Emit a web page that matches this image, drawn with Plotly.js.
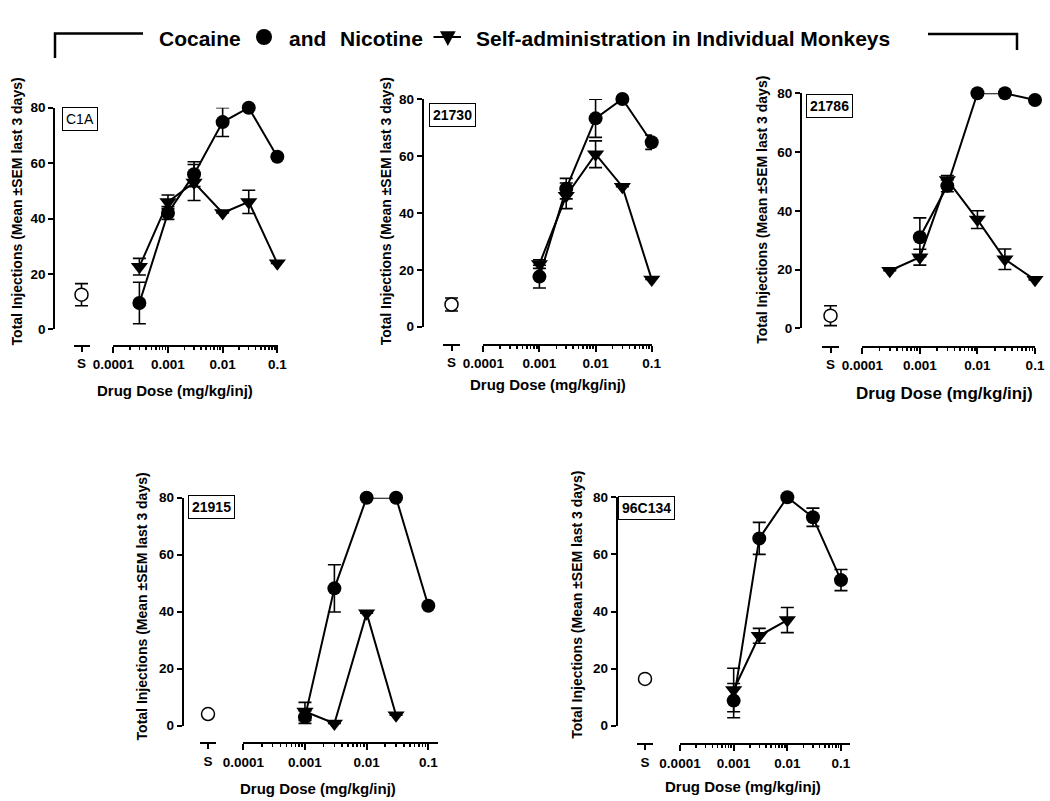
<!DOCTYPE html>
<html>
<head>
<meta charset="utf-8">
<script src="https://cdn.plot.ly/plotly-3.0.1.min.js"></script>
<style>html,body{margin:0;padding:0;background:#fff;}#chart{width:1050px;height:801px;}</style>
</head>
<body>
<div id="chart"></div>
<script>
// ---------------- DATA ----------------
const monkeyIds = ['C1A', '21730', '21786', '21915', '96C134'];
const doseTickVals = [0.0001, 0.001, 0.01, 0.1];
const doseTickText = ['0.0001', '0.001', '0.01', '0.1'];
const yTickVals = [0, 20, 40, 60, 80];
const yTickText = ['0', '20', '40', '60', '80'];
const salineLabel = ['S'];

// C1A
const c1aCocaineDose = [0.0003, 0.001, 0.003, 0.01, 0.03, 0.1];
const c1aCocaine     = [9.5, 42, 56, 74.8, 80, 62.3];
const c1aCocaineSem  = [7.5, 2.3, 4.5, 5.2, 0, 0];
const c1aNicotineDose = [0.0003, 0.001, 0.003, 0.01, 0.03, 0.1];
const c1aNicotine     = [22.6, 46, 53, 42, 46, 23.8];
const c1aNicotineSem  = [3, 2.5, 6.5, 0, 4.2, 0];
const c1aSaline = [12.5], c1aSalineSem = [4];

// 21730
const m21730CocaineDose = [0.001, 0.003, 0.01, 0.03, 0.1];
const m21730Cocaine     = [17.6, 48.5, 73.2, 80, 64.8];
const m21730CocaineSem  = [4, 3.6, 6.7, 0, 2.5];
const m21730NicotineDose = [0.001, 0.003, 0.01, 0.03, 0.1];
const m21730Nicotine     = [22, 46, 60.6, 49.2, 16.6];
const m21730NicotineSem  = [1.5, 4.5, 4.7, 0, 0];
const m21730Saline = [7.8], m21730SalineSem = [2.3];

// 21786
const m21786CocaineDose = [0.001, 0.003, 0.01, 0.03, 0.1];
const m21786Cocaine     = [31, 48.5, 80, 80, 77.7];
const m21786CocaineSem  = [6.6, 2, 0, 0, 0];
const m21786NicotineDose = [0.0003, 0.001, 0.003, 0.01, 0.03, 0.1];
const m21786Nicotine     = [19.6, 24.2, 50.5, 37, 23.5, 16.5];
const m21786NicotineSem  = [0, 2.7, 1.5, 3, 3.5, 0];
const m21786Saline = [4.3], m21786SalineSem = [3.4];

// 21915
const m21915CocaineDose = [0.001, 0.003, 0.01, 0.03, 0.1];
const m21915Cocaine     = [3, 48.2, 80, 80, 42.1];
const m21915CocaineSem  = [2.2, 8.3, 0, 0, 0];
const m21915NicotineDose = [0.001, 0.003, 0.01, 0.03];
const m21915Nicotine     = [5, 0.8, 39.5, 3.7];
const m21915NicotineSem  = [3.2, 0, 0, 0];
const m21915Saline = [4.1], m21915SalineSem = [0];

// 96C134
const m96c134CocaineDose = [0.001, 0.003, 0.01, 0.03, 0.1];
const m96c134Cocaine     = [8.8, 65.6, 80, 73, 51];
const m96c134CocaineSem  = [6, 5.6, 0, 3.2, 3.7];
const m96c134NicotineDose = [0.001, 0.003, 0.01];
const m96c134Nicotine     = [12.5, 31.5, 37];
const m96c134NicotineSem  = [7.6, 2.6, 4.4];
const m96c134Saline = [16.4], m96c134SalineSem = [0];

const titleWords = ['Cocaine', 'and', 'Nicotine', 'Self-administration in Individual Monkeys'];
const yTitle = 'Total Injections (Mean ±SEM last 3 days)';
const xTitle = 'Drug Dose (mg/kg/inj)';

// ---------------- LAYOUT (pixels) ----------------
const W = 1050, H = 801;
const FONT = 'Liberation Sans, Arial, Helvetica, sans-serif';
const px = v => v / W;
const py = v => 1 - v / H;
const b = s => '<b>' + s + '</b>';

const panels = [
  {id: monkeyIds[0], boldBox: false,
   coc: [c1aCocaineDose, c1aCocaine, c1aCocaineSem], nic: [c1aNicotineDose, c1aNicotine, c1aNicotineSem], sal: [c1aSaline, c1aSalineSem],
   yx: 54.3, y80: 107.7, y0: 329.3, xy: 346, s: [73.5, 89.5], l: [113.3, 277.6], lr: [-4, -0.995],
   yt: [16.7, 211.7], xt: [174.5, 390, 15], box: [80, 118.5]},
  {id: monkeyIds[1], boldBox: true,
   coc: [m21730CocaineDose, m21730Cocaine, m21730CocaineSem], nic: [m21730NicotineDose, m21730Nicotine, m21730NicotineSem], sal: [m21730Saline, m21730SalineSem],
   yx: 422.7, y80: 99, y0: 326.7, xy: 345, s: [443, 460], l: [483.3, 652], lr: [-4, -0.995],
   yt: [386.7, 211.5], xt: [547.5, 384, 15], box: [452.8, 115.3]},
  {id: monkeyIds[2], boldBox: true,
   coc: [m21786CocaineDose, m21786Cocaine, m21786CocaineSem], nic: [m21786NicotineDose, m21786Nicotine, m21786NicotineSem], sal: [m21786Saline, m21786SalineSem],
   yx: 801, y80: 93.3, y0: 328.3, xy: 346.7, s: [822, 839], l: [862.3, 1035.3], lr: [-4, -0.995],
   yt: [761.7, 210], xt: [944, 393, 17], box: [829, 106.3]},
  {id: monkeyIds[3], boldBox: true,
   coc: [m21915CocaineDose, m21915Cocaine, m21915CocaineSem], nic: [m21915NicotineDose, m21915Nicotine, m21915NicotineSem], sal: [m21915Saline, m21915SalineSem],
   yx: 182.7, y80: 497.7, y0: 725.7, xy: 743.3, s: [200, 216], l: [243.3, 438.3], lr: [-4, -0.838],
   yt: [141.7, 606.7], xt: [318.3, 788.3, 15], box: [211, 507]},
  {id: monkeyIds[4], boldBox: true,
   coc: [m96c134CocaineDose, m96c134Cocaine, m96c134CocaineSem], nic: [m96c134NicotineDose, m96c134Nicotine, m96c134NicotineSem], sal: [m96c134Saline, m96c134SalineSem],
   yx: 616.7, y80: 497.3, y0: 725.7, xy: 744.3, s: [637, 653], l: [680, 850], lr: [-4, -0.832],
   yt: [576.7, 605], xt: [742.5, 786.7, 15], box: [646.7, 508]}
];

function minorVals(hiLog) {
  const out = [];
  for (let e = -4; e <= -1; e++) for (let m = 2; m <= 9; m++) {
    const v = m * Math.pow(10, e);
    if (Math.log10(v) <= hiLog + 1e-9) out.push(v);
  }
  return out;
}

const tickFont = {family: FONT, size: 13.5, color: 'black'};
const traces = [];
const layout = {
  width: W, height: H, margin: {l: 0, r: 0, t: 0, b: 0},
  paper_bgcolor: 'white', plot_bgcolor: 'rgba(0,0,0,0)', showlegend: false,
  annotations: [], shapes: []
};

panels.forEach((p, i) => {
  const yName = i === 0 ? 'yaxis' : 'yaxis' + (i + 1);
  const yRef = i === 0 ? 'y' : 'y' + (i + 1);
  const sN = 2 * i + 1, lN = 2 * i + 2;
  const sName = sN === 1 ? 'xaxis' : 'xaxis' + sN, sRef = sN === 1 ? 'x' : 'x' + sN;
  const lName = 'xaxis' + lN, lRef = 'x' + lN;

  layout[yName] = {
    domain: [py(p.y0), py(p.y80)], anchor: 'free', position: px(p.yx),
    range: [0, 80], tickvals: yTickVals, ticktext: yTickText.map(b), ticks: 'outside', ticklen: 5, tickwidth: 2, tickcolor: 'black',
    showline: true, linewidth: 2, linecolor: 'black', showgrid: false, zeroline: false,
    tickfont: tickFont, fixedrange: true
  };
  layout[sName] = {
    domain: [px(p.s[0]), px(p.s[1])], anchor: 'free', position: py(p.xy),
    range: [-1, 1], tickvals: [0], ticktext: salineLabel.map(b), ticks: 'outside', ticklen: 5, tickwidth: 2, tickcolor: 'black',
    showline: true, linewidth: 2, linecolor: 'black', showgrid: false, zeroline: false,
    tickfont: tickFont, fixedrange: true
  };
  layout[lName] = {
    domain: [px(p.l[0]), px(p.l[1])], anchor: 'free', position: py(p.xy),
    type: 'log', range: p.lr, tickvals: doseTickVals, ticktext: doseTickText.map(b),
    ticks: 'outside', ticklen: 6, tickwidth: 2, tickcolor: 'black',
    minor: {tickvals: minorVals(p.lr[1]), ticks: 'outside', ticklen: 3, tickwidth: 1.5, tickcolor: 'black', showgrid: false},
    showline: true, linewidth: 2, linecolor: 'black', showgrid: false, zeroline: false,
    tickfont: tickFont, fixedrange: true
  };

  // nicotine (drawn first, cocaine on top)
  traces.push({
    type: 'scatter', mode: 'lines+markers', xaxis: lRef, yaxis: yRef, cliponaxis: false,
    x: p.nic[0], y: p.nic[1],
    error_y: {type: 'data', array: p.nic[2], visible: true, color: 'black', thickness: 1.6, width: 6.5},
    line: {color: 'black', width: 2},
    marker: {symbol: 'triangle-down', size: 15, color: 'black'}
  });
  traces.push({
    type: 'scatter', mode: 'lines+markers', xaxis: lRef, yaxis: yRef, cliponaxis: false,
    x: p.coc[0], y: p.coc[1],
    error_y: {type: 'data', array: p.coc[2], visible: true, color: 'black', thickness: 1.6, width: 6.5},
    line: {color: 'black', width: 2},
    marker: {symbol: 'circle', size: 14, color: 'black'}
  });
  traces.push({
    type: 'scatter', mode: 'markers', xaxis: sRef, yaxis: yRef, cliponaxis: false,
    x: [0], y: p.sal[0],
    error_y: {type: 'data', array: p.sal[1], visible: true, color: 'black', thickness: 1.6, width: 6.5},
    marker: {symbol: 'circle', size: 13, color: 'white', line: {color: 'black', width: 1.5}}
  });

  // monkey id box
  layout.annotations.push({
    xref: 'paper', yref: 'paper', x: px(p.box[0]), y: py(p.box[1]), xanchor: 'center', yanchor: 'middle',
    text: p.boldBox ? b(p.id) : p.id, showarrow: false, bordercolor: 'black', borderwidth: 1, borderpad: 3, bgcolor: 'white',
    font: {family: FONT, size: 14, color: 'black'}
  });
  // y title
  layout.annotations.push({
    xref: 'paper', yref: 'paper', x: px(p.yt[0]), y: py(p.yt[1]), xanchor: 'center', yanchor: 'middle',
    text: b(yTitle), textangle: -90, showarrow: false,
    font: {family: FONT, size: 14, color: 'black'}
  });
  // x title
  layout.annotations.push({
    xref: 'paper', yref: 'paper', x: px(p.xt[0]), y: py(p.xt[1]), xanchor: 'center', yanchor: 'middle',
    text: b(xTitle), showarrow: false,
    font: {family: FONT, size: p.xt[2], color: 'black'}
  });
});

// ---------------- TITLE ----------------
const titleFont = {family: FONT, size: 21, color: 'black'};
const titlePos = [200, 307, 381, 683];
titleWords.forEach((w, k) => {
  layout.annotations.push({
    xref: 'paper', yref: 'paper', x: px(titlePos[k]), y: py(38), xanchor: 'center', yanchor: 'middle',
    text: b(w), showarrow: false, font: titleFont
  });
});
// title decorations: brackets and the two legend symbols
const path = pts => pts.map((q, k) => (k ? 'L' : 'M') + px(q[0]) + ',' + py(q[1])).join(' ');
layout.shapes.push({type: 'path', xref: 'paper', yref: 'paper', path: path([[55, 58], [55, 33.5], [143, 33.5]]), line: {color: 'black', width: 2.5}});
layout.shapes.push({type: 'path', xref: 'paper', yref: 'paper', path: path([[928, 34], [1017, 34], [1017, 50]]), line: {color: 'black', width: 2.5}});
layout.shapes.push({type: 'circle', xref: 'paper', yref: 'paper', x0: px(256), x1: px(272), y0: py(45), y1: py(29), fillcolor: 'black', line: {color: 'black', width: 0}});
layout.shapes.push({type: 'path', xref: 'paper', yref: 'paper', path: path([[440, 31.3], [455.7, 31.3], [447.8, 46]]) + ' Z', fillcolor: 'black', line: {color: 'black', width: 0}});
layout.shapes.push({type: 'line', xref: 'paper', yref: 'paper', x0: px(433.5), x1: px(461), y0: py(37), y1: py(37), line: {color: 'black', width: 2}});

Plotly.newPlot('chart', traces, layout, {displayModeBar: false, staticPlot: true});
</script>
</body>
</html>
